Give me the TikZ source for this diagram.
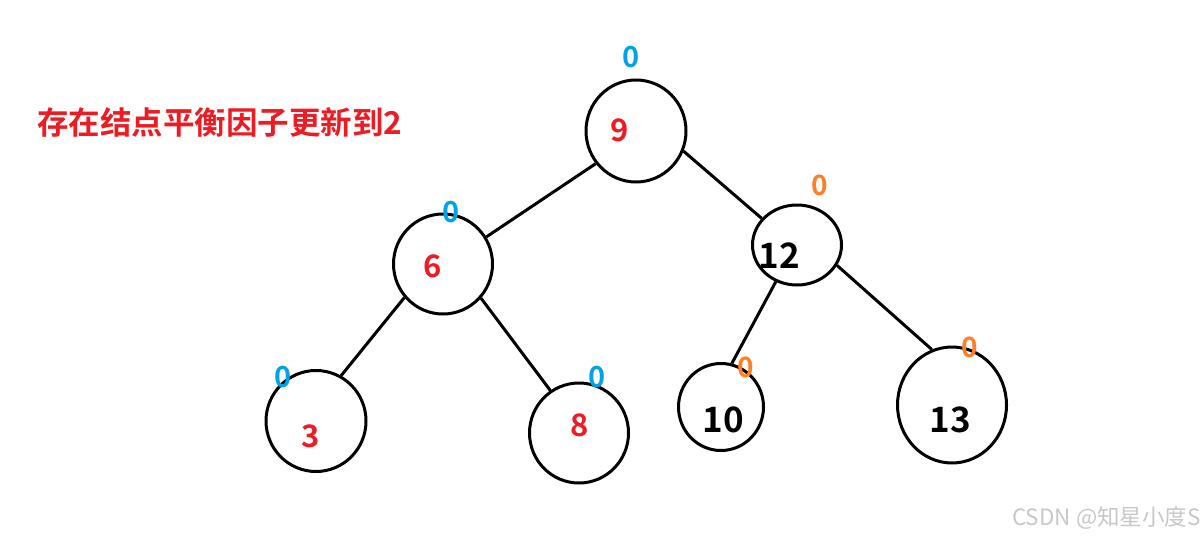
\documentclass[tikz,border=0pt]{standalone}
\usepackage{fontspec}
\setmainfont{Noto Sans CJK SC}[BoldFont=* Bold]
\usepackage{xcolor}
\usepackage{tikz}
\usetikzlibrary{shapes.geometric}
\definecolor{keyred}{RGB}{237,28,36}
\definecolor{bfblue}{RGB}{0,162,232}
\definecolor{bforange}{RGB}{255,127,39}
\definecolor{markgray}{RGB}{200,200,200}
\tikzset{
  vertex/.style={ellipse, draw, line width=3pt, inner sep=0pt},
  redkey/.style={text=keyred, inner sep=0pt, font=\fontsize{31}{31}\selectfont\bfseries},
  blackkey/.style={text=black, inner sep=0pt, font=\fontsize{35}{35}\selectfont\bfseries},
  bfold/.style={text=bfblue, inner sep=0pt, font=\fontsize{29}{29}\selectfont\bfseries},
  bfnew/.style={text=bforange, inner sep=0pt, font=\fontsize{28}{28}\selectfont\bfseries},
  edge/.style={line width=3pt}
}

\begin{document}
\begin{tikzpicture}[x=1pt, y=-1pt]
  \useasboundingbox (0,0) rectangle (1204,538);

  % Title
  \node[text=keyred, inner sep=0pt, font=\fontsize{31.5}{31.5}\selectfont\bfseries] (title) at (220,122) {存在结点平衡因子更新到2};

  % Circles
  \node[vertex, minimum width=100, minimum height=102] (n9) at (636,131) {};
  \node[vertex, minimum width=99, minimum height=100] (n6) at (443,264) {};
  \node[vertex, minimum width=89, minimum height=80] (n12) at (797,245) {};
  \node[vertex, minimum width=100, minimum height=101] (n3) at (316,421) {};
  \node[vertex, minimum width=99, minimum height=100] (n8) at (579,433) {};
  \node[vertex, minimum width=85, minimum height=87] (n10) at (721,407) {};
  \node[vertex, minimum width=109, minimum height=116] (n13) at (952,405) {};

  % Keys
  \node[redkey] (k9) at (620,130) {9};
  \node[redkey] (k6) at (433,266) {6};
  \node[redkey] (k3) at (311,436) {3};
  \node[redkey] (k8) at (580,425) {8};
  \node[blackkey] (k12) at (779,256) {12};
  \node[blackkey] (k10) at (723,420) {10};
  \node[blackkey] (k13) at (950,420) {13};

  % Balance factors
  \node[bfold] (b9) at (631,57) {0};
  \node[bfold] (b6) at (451,212) {0};
  \node[bfold] (b3) at (283,377) {0};
  \node[bfold] (b8) at (597,377) {0};
  \node[bfnew] (b12) at (820,185) {0};
  \node[bfnew] (b10) at (746,367) {0};
  \node[bfnew] (b13) at (970,347) {0};

  % Edges
  \draw[edge] (n9.219) -- (n6.32);
  \draw[edge] (n9.337) -- (n12.143);
  \draw[edge] (n6.221) -- (n3.61);
  \draw[edge] (n6.318) -- (n8.124);
  \draw[edge] (n12.240) -- (n10.76);
  \draw[edge] (n12.333) -- (n13.110);

  % Watermark
  \node[text=markgray, inner sep=0pt, font=\fontsize{22.5}{22.5}\selectfont, anchor=east] (mark) at (1201,518) {CSDN @知星小度S};
\end{tikzpicture}
\end{document}
